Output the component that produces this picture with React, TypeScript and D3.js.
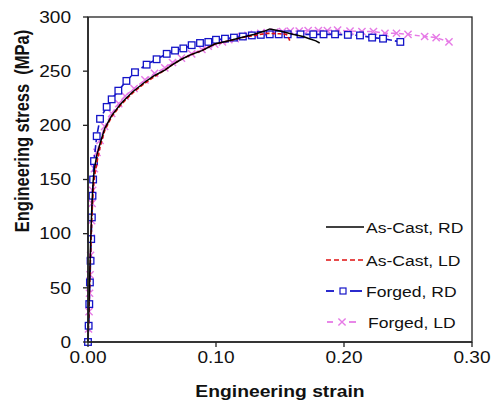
import React from 'react'
import * as d3 from 'd3'

// strain, stress (MPa)
const asCastRD: [number, number][] = [
  [0, 0], [0.001, 45], [0.002, 90], [0.003, 125], [0.004, 148], [0.005, 160],
  [0.007, 173], [0.0094, 183], [0.013, 197], [0.0185, 209], [0.025, 219],
  [0.029, 224], [0.035, 231], [0.0445, 240], [0.052, 246], [0.06, 251],
  [0.066, 256], [0.073, 261], [0.08, 265], [0.089, 269], [0.099, 275],
  [0.11, 278], [0.12, 281], [0.13, 284], [0.138, 287], [0.142, 289],
  [0.146, 288], [0.15, 287], [0.16, 284], [0.168, 282], [0.173, 280],
  [0.178, 278], [0.181, 276]
]

const asCastLD: [number, number][] = [
  [0, 0], [0.001, 40], [0.002, 80], [0.003, 115], [0.004, 138], [0.005, 152],
  [0.007, 166], [0.0094, 180], [0.013, 195], [0.0185, 208], [0.025, 218],
  [0.029, 223], [0.035, 230], [0.0445, 239], [0.052, 245], [0.06, 251],
  [0.066, 256], [0.073, 261], [0.08, 265], [0.089, 269], [0.099, 275],
  [0.11, 278], [0.12, 281], [0.13, 283], [0.14, 285], [0.15, 284.5],
  [0.155, 284], [0.157, 280], [0.158, 277]
]

const forgedRD: [number, number][] = [
  [0, 0], [0.0005, 15], [0.001, 35], [0.0015, 55], [0.002, 75], [0.0025, 95],
  [0.003, 115], [0.0035, 135], [0.004, 150], [0.0047, 167], [0.0068, 190],
  [0.0094, 206], [0.0146, 217], [0.0185, 224], [0.0237, 232], [0.03, 241],
  [0.0367, 249], [0.0458, 256], [0.0536, 261], [0.0615, 266], [0.068, 269],
  [0.0745, 271], [0.081, 274], [0.0875, 276], [0.094, 277], [0.1, 279],
  [0.107, 280], [0.114, 281], [0.121, 282], [0.128, 283], [0.135, 283.5],
  [0.142, 284], [0.149, 284], [0.156, 284], [0.166, 284], [0.176, 284],
  [0.184, 284], [0.193, 284], [0.203, 283.5], [0.2125, 283], [0.222, 281],
  [0.2305, 280], [0.244, 277]
]

const forgedLD: [number, number][] = [
  [0, 0], [0.0004, 12], [0.0008, 28], [0.0012, 45], [0.0016, 62], [0.002, 80],
  [0.0024, 96], [0.0028, 112], [0.0032, 128], [0.0036, 140], [0.005, 160],
  [0.007, 175], [0.0094, 186], [0.013, 199], [0.0185, 211], [0.024, 220],
  [0.029, 227], [0.036, 234], [0.0445, 242], [0.052, 248], [0.06, 253],
  [0.066, 258], [0.073, 262], [0.081, 266], [0.089, 270], [0.094, 273],
  [0.099, 275], [0.105, 277], [0.11, 279], [0.115, 280], [0.12, 282],
  [0.125, 283], [0.13, 284], [0.135, 285], [0.14, 285.5], [0.146, 286],
  [0.152, 286.5], [0.158, 287], [0.165, 287], [0.172, 287.5], [0.18, 287.5],
  [0.187, 287.5], [0.195, 288], [0.2047, 287], [0.214, 286.6], [0.223, 286.6],
  [0.232, 285], [0.241, 285], [0.25, 284], [0.263, 282], [0.272, 281],
  [0.282, 277]
]

const legendLabels = ['As-Cast, RD', 'As-Cast, LD', 'Forged, RD', 'Forged, LD']
const xTickValues = [0, 0.1, 0.2, 0.3]
const yTickValues = [0, 50, 100, 150, 200, 250, 300]

const FONT = '"Liberation Sans", Arial, sans-serif'
const SX = 1.17 // the source picture is stretched sideways
const BLUE = '#1414c8'
const RED = '#e01010'
const PINK = '#e67ae6'

const Square = ({ cx, cy }: { cx: number; cy: number }) => (
  <rect x={cx - 3.3} y={cy - 3.3} width={6.6} height={6.6} fill="white" stroke={BLUE} strokeWidth={1.3} />
)

const Cross = ({ cx, cy }: { cx: number; cy: number }) => (
  <path d={`M${cx - 3.6},${cy - 3.6}L${cx + 3.6},${cy + 3.6}M${cx - 3.6},${cy + 3.6}L${cx + 3.6},${cy - 3.6}`} stroke={PINK} strokeWidth={1.4} />
)

export default function App() {
  const x = d3.scaleLinear().domain([0, 0.3]).range([88, 472])
  const y = d3.scaleLinear().domain([0, 300]).range([342, 17])
  const line = d3.line<[number, number]>().x(d => x(d[0])).y(d => y(d[1]))

  const legendX = 326
  const legendRows = [227, 260, 291, 322]

  return (
    <svg width={496} height={409} style={{ position: 'absolute', left: 0, top: 0, background: 'white' }} fontFamily={FONT}>
      {/* curves */}
      <path d={line(forgedLD) || ''} fill="none" stroke={PINK} strokeWidth={1.4} strokeDasharray="5,3" />
      {forgedLD.map((d, i) => <Cross key={i} cx={x(d[0])} cy={y(d[1])} />)}
      <path d={line(forgedRD) || ''} fill="none" stroke={BLUE} strokeWidth={1.6} strokeDasharray="7,3" />
      {forgedRD.map((d, i) => <Square key={i} cx={x(d[0])} cy={y(d[1])} />)}
      <path d={line(asCastLD) || ''} fill="none" stroke={RED} strokeWidth={1.6} strokeDasharray="4,2" />
      <path d={line(asCastRD) || ''} fill="none" stroke="black" strokeWidth={1.5} />

      {/* frame */}
      <rect x={x(0)} y={y(300)} width={x(0.3) - x(0)} height={y(0) - y(300)} fill="none" stroke="#222" strokeWidth={1.3} />
      <line x1={x(0)} x2={x(0)} y1={y(0)} y2={y(300)} stroke="#222" strokeWidth={1.6} />
      <line x1={x(0)} x2={x(0.3)} y1={y(0)} y2={y(0)} stroke="#222" strokeWidth={1.6} />

      {/* y axis */}
      {yTickValues.map(v => (
        <g key={v}>
          <line x1={x(0) - 5} x2={x(0)} y1={y(v)} y2={y(v)} stroke="#222" strokeWidth={1.3} />
          <text transform={`translate(71,${y(v) + 5.8}) scale(${SX},1)`} textAnchor="end" fontSize={16.3} fill="#111">
            {v}
          </text>
        </g>
      ))}
      {/* x axis */}
      {xTickValues.map(v => (
        <g key={v}>
          <line x1={x(v)} x2={x(v)} y1={y(0)} y2={y(0) + 5} stroke="#222" strokeWidth={1.3} />
          <text transform={`translate(${x(v)},363) scale(${SX},1)`} textAnchor="middle" fontSize={16.3} fill="#111">
            {d3.format('.2f')(v)}
          </text>
        </g>
      ))}

      <text transform={`translate(280,397) scale(${SX},1)`} textAnchor="middle" fontSize={16.5} fontWeight="bold" fill="#111">
        Engineering strain
      </text>
      <text transform={`translate(29,131) rotate(-90) scale(1,${SX})`} textAnchor="middle" fontSize={16.5} fontWeight="bold" fill="#111" style={{ whiteSpace: 'pre' }}>
        {'Engineering stress  (MPa)'}
      </text>

      {/* legend */}
      <line x1={legendX} x2={legendX + 38} y1={legendRows[0]} y2={legendRows[0]} stroke="black" strokeWidth={1.6} />
      <line x1={legendX} x2={legendX + 38} y1={legendRows[1]} y2={legendRows[1]} stroke={RED} strokeWidth={1.6} strokeDasharray="5,3" />
      <line x1={legendX} x2={legendX + 8} y1={legendRows[2]} y2={legendRows[2]} stroke={BLUE} strokeWidth={1.8} />
      <line x1={legendX + 24} x2={legendX + 36} y1={legendRows[2]} y2={legendRows[2]} stroke={BLUE} strokeWidth={1.8} />
      <rect x={legendX + 14} y={legendRows[2] - 3} width={6} height={6} fill="white" stroke={BLUE} strokeWidth={1.2} />
      <line x1={legendX + 1} x2={legendX + 7} y1={legendRows[3]} y2={legendRows[3]} stroke={PINK} strokeWidth={1.8} />
      <line x1={legendX + 23} x2={legendX + 30} y1={legendRows[3]} y2={legendRows[3]} stroke={PINK} strokeWidth={1.8} />
      <Cross cx={legendX + 16} cy={legendRows[3]} />
      {legendLabels.map((l, i) => (
        <text key={l} transform={`translate(${i === 3 ? 368 : 366},${legendRows[i] + 5.5}) scale(${SX},1)`} fontSize={15} fill="#111">
          {l}
        </text>
      ))}
    </svg>
  )
}
